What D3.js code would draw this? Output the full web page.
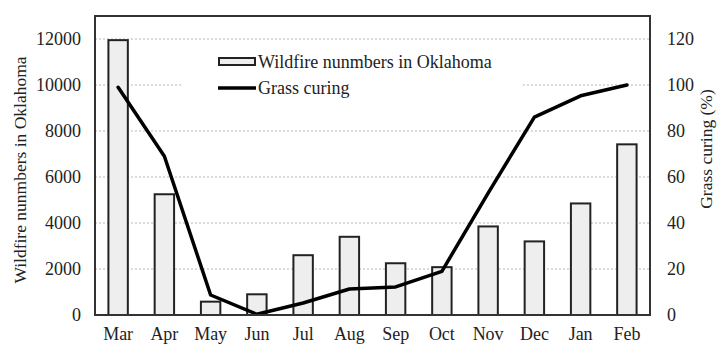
<!DOCTYPE html>
<html>
<head>
<meta charset="utf-8">
<script src="https://cdn.jsdelivr.net/npm/d3@7/dist/d3.min.js"></script>
<style>
  html, body { margin: 0; padding: 0; background: #fff; }
  svg { display: block; font-family: "Liberation Serif", "Times New Roman", serif; }
</style>
</head>
<body>
<svg id="chart" width="717" height="345"></svg>
<script>
// Monthly wildfire counts in Oklahoma (bars, left axis) and grass curing (line, right axis)
const months = ["Mar", "Apr", "May", "Jun", "Jul", "Aug", "Sep", "Oct", "Nov", "Dec", "Jan", "Feb"];
const wildfires = [11950, 5250, 580, 900, 2600, 3400, 2250, 2080, 3850, 3200, 4850, 7420];
const curing = [99, 69, 8.7, 0.3, 5.2, 11.3, 12.2, 19, 53, 86, 95.3, 100];
const leftTicks = [0, 2000, 4000, 6000, 8000, 10000, 12000];
const rightTicks = [0, 20, 40, 60, 80, 100, 120];

const svg = d3.select("#chart");
const m = { left: 95, right: 650, top: 16, bottom: 315 };
const serif = "Liberation Serif, Times New Roman, serif";

const x = d3.scaleBand().domain(months).range([m.left, m.right])
  .paddingInner(0.58).paddingOuter(0.29);
const yL = d3.scaleLinear().domain([0, 13000]).range([m.bottom, m.top]);
const yR = d3.scaleLinear().domain([0, 130]).range([m.bottom, m.top]);

// dotted horizontal gridlines
svg.append("g").selectAll("line").data(leftTicks).join("line")
  .attr("x1", m.left).attr("x2", m.right)
  .attr("y1", d => yL(d)).attr("y2", d => yL(d))
  .attr("stroke", "#b8b8b8").attr("stroke-width", 1.2)
  .attr("stroke-dasharray", "2,2");

// bars
svg.append("g").selectAll("rect").data(wildfires).join("rect")
  .attr("x", (d, i) => x(months[i]))
  .attr("width", x.bandwidth())
  .attr("y", d => yL(d))
  .attr("height", d => yL(0) - yL(d))
  .attr("fill", "#eeeeee").attr("stroke", "#222").attr("stroke-width", 2);

// grass curing line
const line = d3.line()
  .x((d, i) => x(months[i]) + x.bandwidth() / 2)
  .y(d => yR(d));
svg.append("path").datum(curing)
  .attr("d", line).attr("fill", "none")
  .attr("stroke", "#000").attr("stroke-width", 3.5)
  .attr("stroke-linejoin", "round").attr("stroke-linecap", "round");

// plot frame
svg.append("rect")
  .attr("x", m.left).attr("y", m.top)
  .attr("width", m.right - m.left).attr("height", m.bottom - m.top)
  .attr("fill", "none").attr("stroke", "#333").attr("stroke-width", 2);

// axes (labels only, no tick marks)
const axL = d3.axisLeft(yL).tickValues(leftTicks).tickFormat(d3.format("d")).tickSize(0).tickPadding(14);
const axR = d3.axisRight(yR).tickValues(rightTicks).tickFormat(d3.format("d")).tickSize(0).tickPadding(17);
const axB = d3.axisBottom(x).tickSize(0).tickPadding(12);

function styleAxis(g) {
  g.select(".domain").remove();
  g.attr("font-family", serif);
  g.selectAll("text").attr("font-size", 18).attr("fill", "#222");
}
svg.append("g").attr("transform", `translate(${m.left},0)`).call(axL).call(styleAxis);
svg.append("g").attr("transform", `translate(${m.right},0)`).call(axR).call(styleAxis);
svg.append("g").attr("transform", `translate(0,${m.bottom})`).call(axB).call(styleAxis);

// axis titles
svg.append("text")
  .attr("transform", "translate(26,170) rotate(-90)")
  .attr("text-anchor", "middle").attr("font-size", 17.5).attr("fill", "#222")
  .text("Wildfire nunmbers in Oklahoma");
svg.append("text")
  .attr("transform", "translate(712,149) rotate(-90)")
  .attr("text-anchor", "middle").attr("font-size", 17.5).attr("fill", "#222")
  .text("Grass curing (%)");

// legend
const lg = svg.append("g");
lg.append("rect").attr("x", 183).attr("y", 42).attr("width", 340).attr("height", 58)
  .attr("fill", "#fff");
lg.append("rect").attr("x", 219).attr("y", 58).attr("width", 36).attr("height", 7)
  .attr("fill", "#eeeeee").attr("stroke", "#222").attr("stroke-width", 2);
lg.append("text").attr("x", 258).attr("y", 68).attr("font-size", 18).attr("fill", "#222")
  .text("Wildfire nunmbers in Oklahoma");
lg.append("line").attr("x1", 218).attr("x2", 256).attr("y1", 88).attr("y2", 88)
  .attr("stroke", "#000").attr("stroke-width", 3.5);
lg.append("text").attr("x", 258).attr("y", 94).attr("font-size", 18).attr("fill", "#222")
  .text("Grass curing");
</script>
</body>
</html>
